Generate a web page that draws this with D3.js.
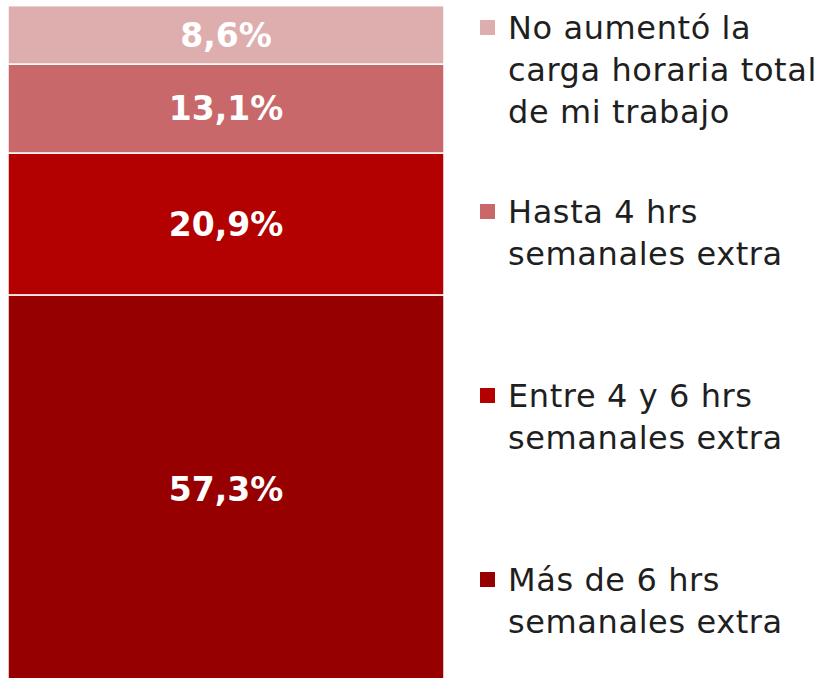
<!DOCTYPE html>
<html>
<head>
<meta charset="utf-8">
<script src="https://cdn.jsdelivr.net/npm/d3@7"></script>
<style>
  html, body { margin: 0; padding: 0; background: #fff; overflow: hidden; }
  svg { display: block; }
</style>
</head>
<body>
<svg id="chart"></svg>
<script>
// stack order: bottom to top
const categories = ["Más de 6 hrs", "Entre 4 y 6 hrs", "Hasta 4 hrs", "No aumentó"];
const values = [57.3, 20.9, 13.1, 8.6];
const colors = ["#960000", "#b30000", "#c8686a", "#deaeaf"];
// legend runs top to bottom, one array of lines per entry
const legendLines = [
  ["No aumentó la", "carga horaria total", "de mi trabajo"],
  ["Hasta 4 hrs", "semanales extra"],
  ["Entre 4 y 6 hrs", "semanales extra"],
  ["Más de 6 hrs", "semanales extra"]
];
const legendColors = ["#deaeaf", "#c8686a", "#b30000", "#960000"];

const W = 828, H = 678;
const svg = d3.select("#chart").attr("width", W).attr("height", H);

// one bar, x band
const x = d3.scaleBand().domain(["total"]).range([8, 444]).padding(0);
const y = d3.scaleLinear().domain([0, 100]).range([684, 5]);

// cumulative stack
let acc = 0;
const segs = values.map((v, i) => {
  const s = { cat: categories[i], v: v, y0: acc, y1: acc + v, color: colors[i] };
  acc += v;
  return s;
});

const fmt = (v) => v.toFixed(1).replace(".", ",") + "%";

const bar = svg.append("g");
bar.selectAll("rect")
  .data(segs)
  .enter().append("rect")
  .attr("x", x("total"))
  .attr("width", x.bandwidth())
  .attr("y", (d) => y(d.y1))
  .attr("height", (d) => y(d.y0) - y(d.y1))
  .attr("fill", (d) => d.color)
  .attr("stroke", "#fff")
  .attr("stroke-width", 1.5);

bar.selectAll("text")
  .data(segs)
  .enter().append("text")
  .attr("x", x("total") + x.bandwidth() / 2)
  .attr("y", (d) => (y(d.y0) + y(d.y1)) / 2)
  .attr("dy", "0.36em")
  .attr("text-anchor", "middle")
  .attr("fill", "#fff")
  .style("font-family", "'DejaVu Sans', sans-serif")
  .style("font-weight", "bold")
  .style("font-size", "33px")
  .text((d) => fmt(d.v));

// legend
const legY = d3.scaleLinear().domain([0, 3]).range([27, 579]);
const lineH = 42;

const leg = svg.append("g");
const items = leg.selectAll("g")
  .data(legendLines)
  .enter().append("g")
  .attr("transform", (d, i) => "translate(0," + legY(i) + ")");

items.append("rect")
  .attr("x", 480)
  .attr("y", -7)
  .attr("width", 15)
  .attr("height", 15)
  .attr("fill", (d, i) => legendColors[i]);

items.each(function (lines) {
  d3.select(this).selectAll("text")
    .data(lines)
    .enter().append("text")
    .attr("x", 508)
    .attr("y", (d, j) => j * lineH)
    .attr("dy", "0.36em")
    .attr("fill", "#1f1f1f")
    .style("font-family", "'DejaVu Sans', sans-serif")
    .style("font-size", "32px")
    .style("letter-spacing", "0.6px")
    .text((d) => d);
});
</script>
</body>
</html>
